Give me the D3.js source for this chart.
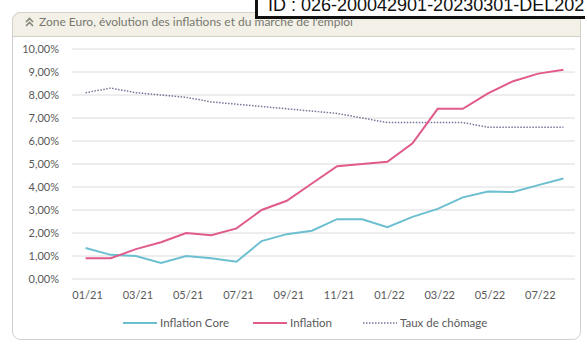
<html>
<head>
<meta charset="utf-8">
<script src="https://cdn.jsdelivr.net/npm/d3@7"></script>
<style>
    body {margin: 0; background: white; font-family: Lato, sans-serif;}
    #idbox {
        position: absolute; left: 255px; top: -7px; width: 345px; height: 20px;
        border: 3px solid #111; background: white;
        font-family: 'Liberation Sans', Arial, sans-serif; font-size: 18px; color: #111;
        line-height: 19px; padding-left: 10px; white-space: nowrap; overflow: hidden;
    }
</style>
</head>
<body>
<svg width="585" height="343"></svg>
<div id="idbox">ID : 026-200042901-20230301-DEL2023-000000000</div>
<script>
// valeurs (en %)
var months = ['01/21','02/21','03/21','04/21','05/21','06/21','07/21','08/21','09/21','10/21',
              '11/21','12/21','01/22','02/22','03/22','04/22','05/22','06/22','07/22','08/22'];
var inflationCore = [1.35,1.05,1.0,0.7,1.0,0.9,0.75,1.65,1.95,2.1,2.6,2.6,2.25,2.7,3.05,3.55,3.8,3.78,4.08,4.37];
var inflation = [0.9,0.9,1.3,1.6,2.0,1.9,2.2,3.0,3.4,4.15,4.9,5.0,5.1,5.9,7.4,7.4,8.07,8.6,8.93,9.1];
var chomage = [8.1,8.3,8.1,8.0,7.9,7.7,7.6,7.5,7.4,7.3,7.2,7.0,6.8,6.8,6.8,6.8,6.6,6.6,6.6,6.6];
var yTicks = [0,1,2,3,4,5,6,7,8,9,10];
var xTickLabels = ['01/21','03/21','05/21','07/21','09/21','11/21','01/22','03/22','05/22','07/22'];

var svg = d3.select('svg');

// cadre
svg.append('rect').attr('x',12.5).attr('y',12.5).attr('width',568).attr('height',327)
    .attr('rx',8).attr('fill','white').attr('stroke','#cfcfcf');
svg.append('path').attr('d','M12.5,36.5 V20.5 a8,8 0 0 1 8,-8 H572.5 a8,8 0 0 1 8,8 V36.5 Z')
    .attr('fill','#f3f1e7').attr('stroke','#d4d2c8');
// icône double chevron
svg.append('path').attr('d','M26,22 L29.5,18.5 L33,22 M26,26 L29.5,22.5 L33,26')
    .attr('fill','none').attr('stroke','#85857c').attr('stroke-width',1.6);
svg.append('text').attr('x',39).attr('y',25.5).attr('fill','#77776f').style('font-size','12px')
    .text("Zone Euro, évolution des inflations et du marché de l'emploi");

var x = d3.scaleBand().domain(months).range([73,576]);
var y = d3.scaleLinear().domain([0,10]).range([279,49]);
var cx = function(d,i) {return x(months[i]) + x.bandwidth()/2;};

var grid = svg.append('g');
grid.selectAll('line').data(yTicks).enter().append('line')
    .attr('x1',72).attr('x2',575).attr('y1',d => y(d)).attr('y2',d => y(d))
    .attr('stroke','#dcdcdc').attr('stroke-width',1);

svg.append('g').attr('transform','translate(59,0)')
    .call(d3.axisLeft(y).tickValues(yTicks).tickSize(0).tickPadding(0).tickFormat(d => d.toFixed(2).replace('.',',') + '%'))
    .call(g => g.select('.domain').remove())
    .call(g => g.selectAll('text').attr('fill','#595959').style('font-family','Lato').style('font-size','11px'));

svg.append('g').attr('transform','translate(2,288)')
    .call(d3.axisBottom(x).tickValues(xTickLabels).tickSize(0))
    .call(g => g.select('.domain').remove())
    .call(g => g.selectAll('text').attr('fill','#595959').style('font-family','Lato').style('font-size','11px'));

var line = d3.line().x(cx).y(d => y(d));
svg.append('path').datum(chomage).attr('d',line).attr('fill','none')
    .attr('stroke','#76769a').attr('stroke-width',1.5).attr('stroke-dasharray','1.5,1.5');
svg.append('path').datum(inflationCore).attr('d',line).attr('fill','none')
    .attr('stroke','#6cbfd0').attr('stroke-width',2);
svg.append('path').datum(inflation).attr('d',line).attr('fill','none')
    .attr('stroke','#e05a8c').attr('stroke-width',2);

// légende
var legend = [
    {name:'Inflation Core', color:'#6cbfd0', dash:null, x:123},
    {name:'Inflation', color:'#e05a8c', dash:null, x:253},
    {name:'Taux de chômage', color:'#76769a', dash:'1.5,1.5', x:363}
];
var lg = svg.selectAll('.lg').data(legend).enter().append('g').attr('class','lg');
lg.append('line').attr('x1',d => d.x).attr('x2',d => d.x + 34).attr('y1',323).attr('y2',323)
    .attr('stroke',d => d.color).attr('stroke-width',d => d.dash ? 1.5 : 2)
    .attr('stroke-dasharray',d => d.dash);
lg.append('text').attr('x',d => d.x + 37).attr('y',327).attr('fill','#595959')
    .style('font-size','11.5px').text(d => d.name);
</script>
</body>
</html>
